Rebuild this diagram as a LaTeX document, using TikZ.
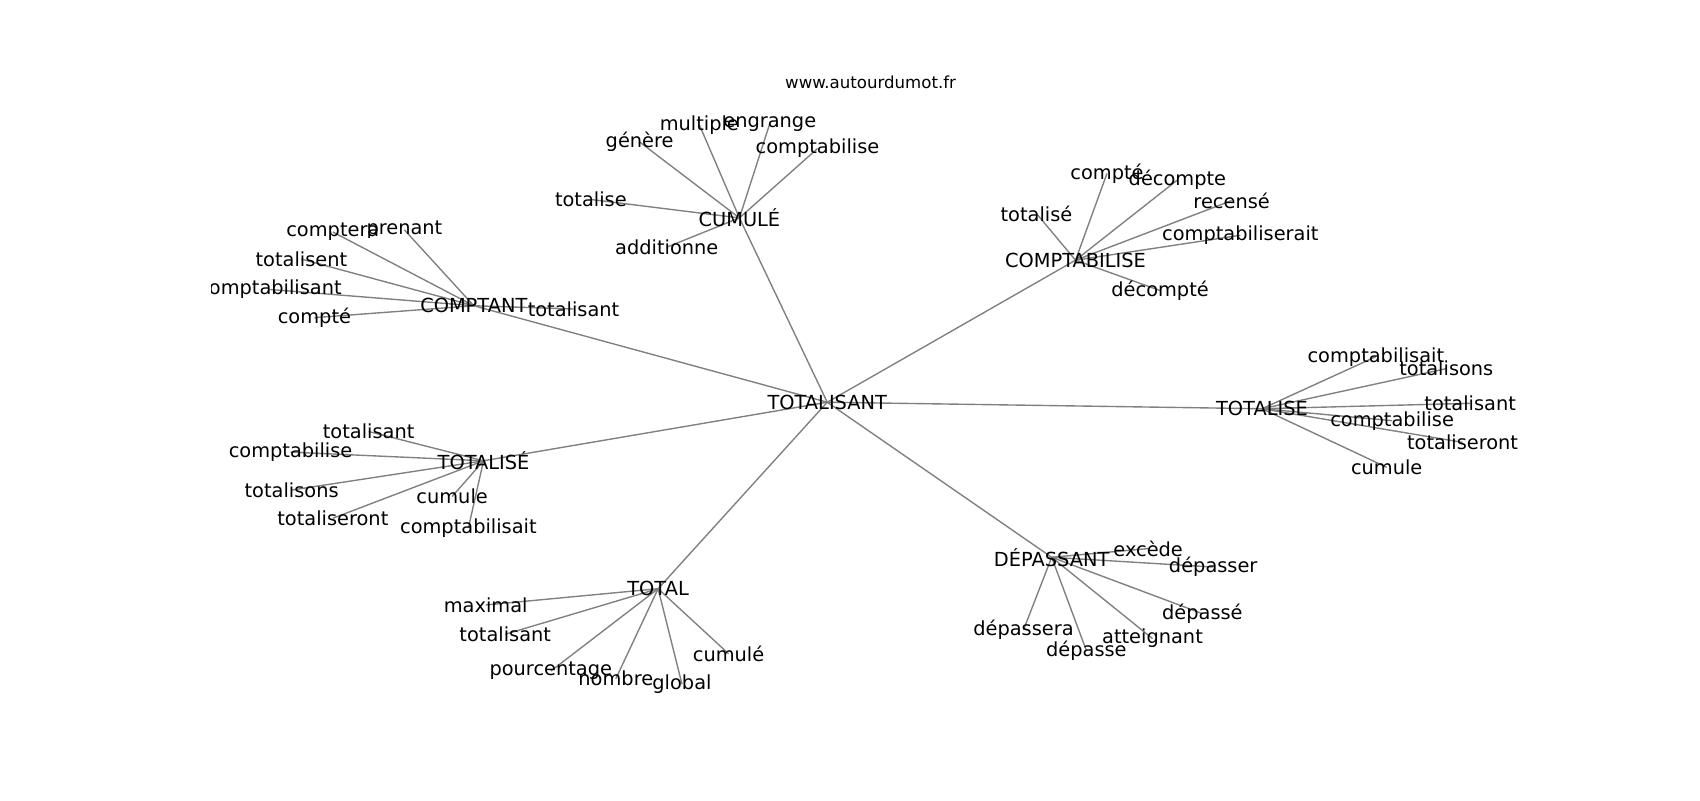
\documentclass[tikz,border=0pt]{standalone}
\usepackage{fontspec}
\setmainfont{DejaVu Sans}
\usetikzlibrary{backgrounds}

\begin{document}
\begin{tikzpicture}
      [x=0.27539mm, y=-0.27539mm,
        word/.style={inner sep=0pt, font=\fontsize{14}{16}\selectfont},
        link/.style={draw=gray, line width=1pt}]
    \useasboundingbox (0,0) rectangle (1568,738);
    \node[inner sep=0pt, font=\fontsize{12}{14}\selectfont] (site) at (803,76) {www.autourdumot.fr};
    \begin{scope}
      % words are cut at the frame of the plot
      \clip (195.5,88.5) rectangle (1411,656.7);
      \node[word] (totalisant) at (763,371) {TOTALISANT};
      \node[word] (cumule) at (682,201) {CUMULÉ};
        \node[word] (cu1) at (590,131) {génère};
        \node[word] (cu2) at (645,115) {multiple};
        \node[word] (cu3) at (710,114) {engrange};
        \node[word] (cu4) at (754,137) {comptabilise};
        \node[word] (cu5) at (545,184) {totalise};
        \node[word] (cu6) at (615,228) {additionne};
      \node[word] (comptant) at (437,282) {COMPTANT};
        \node[word] (ct1) at (307,214) {comptera};
        \node[word] (ct2) at (373,212) {prenant};
        \node[word] (ct3) at (278,239) {totalisent};
        \node[word] (ct4) at (249,267) {comptabilisant};
        \node[word] (ct5) at (290,293) {compté};
        \node[word] (ct6) at (529,285) {totalisant};
      \node[word] (comptabilise) at (992,240) {COMPTABILISE};
        \node[word] (cb1) at (1021,160) {compté};
        \node[word] (cb2) at (1086,166) {décompte};
        \node[word] (cb3) at (1136,185) {recensé};
        \node[word] (cb4) at (956,197) {totalisé};
        \node[word] (cb5) at (1144,217) {comptabiliserait};
        \node[word] (cb6) at (1070,268) {décompté};
      \node[word] (totalise) at (1164,377) {TOTALISE};
        \node[word] (ts1) at (1269,329) {comptabilisait};
        \node[word] (ts2) at (1334,340) {totalisons};
        \node[word] (ts3) at (1356,372) {totalisant};
        \node[word] (ts4) at (1284,388) {comptabilise};
        \node[word] (ts5) at (1349,408) {totaliseront};
        \node[word] (ts6) at (1279,431) {cumule};
      \node[word] (totalisee) at (446,425) {TOTALISÉ};
        \node[word] (te1) at (340,398) {totalisant};
        \node[word] (te2) at (268,417) {comptabilise};
        \node[word] (te3) at (269,452) {totalisons};
        \node[word] (te4) at (307,478) {totaliseront};
        \node[word] (te5) at (417,458) {cumule};
        \node[word] (te6) at (432,487) {comptabilisait};
      \node[word] (total) at (607,543) {TOTAL};
        \node[word] (tl1) at (448,558) {maximal};
        \node[word] (tl2) at (466,585) {totalisant};
        \node[word] (tl3) at (508,619) {pourcentage};
        \node[word] (tl4) at (568,626) {nombre};
        \node[word] (tl5) at (629,631) {global};
        \node[word] (tl6) at (672,603) {cumulé};
      \node[word] (depassant) at (970,514) {DÉPASSANT};
        \node[word] (dp1) at (1059,506) {excède};
        \node[word] (dp2) at (1119,523) {dépasser};
        \node[word] (dp3) at (1109,566) {dépassé};
        \node[word] (dp4) at (1063,589) {atteignant};
        \node[word] (dp5) at (1002,600) {dépasse};
        \node[word] (dp6) at (944,581) {dépassera};
    \end{scope}
    \begin{scope}[on background layer]
      \foreach \hub in {cumule, comptant, comptabilise, totalise, totalisee, total, depassant}
        \draw[link] (totalisant.center) -- (\hub.center);
      \foreach \hub/\leaf in {cumule/cu, comptant/ct, comptabilise/cb, totalise/ts, totalisee/te, total/tl, depassant/dp}
        \foreach \i in {1,...,6}
          \draw[link] (\hub.center) -- (\leaf\i.center);
    \end{scope}
\end{tikzpicture}
\end{document}
